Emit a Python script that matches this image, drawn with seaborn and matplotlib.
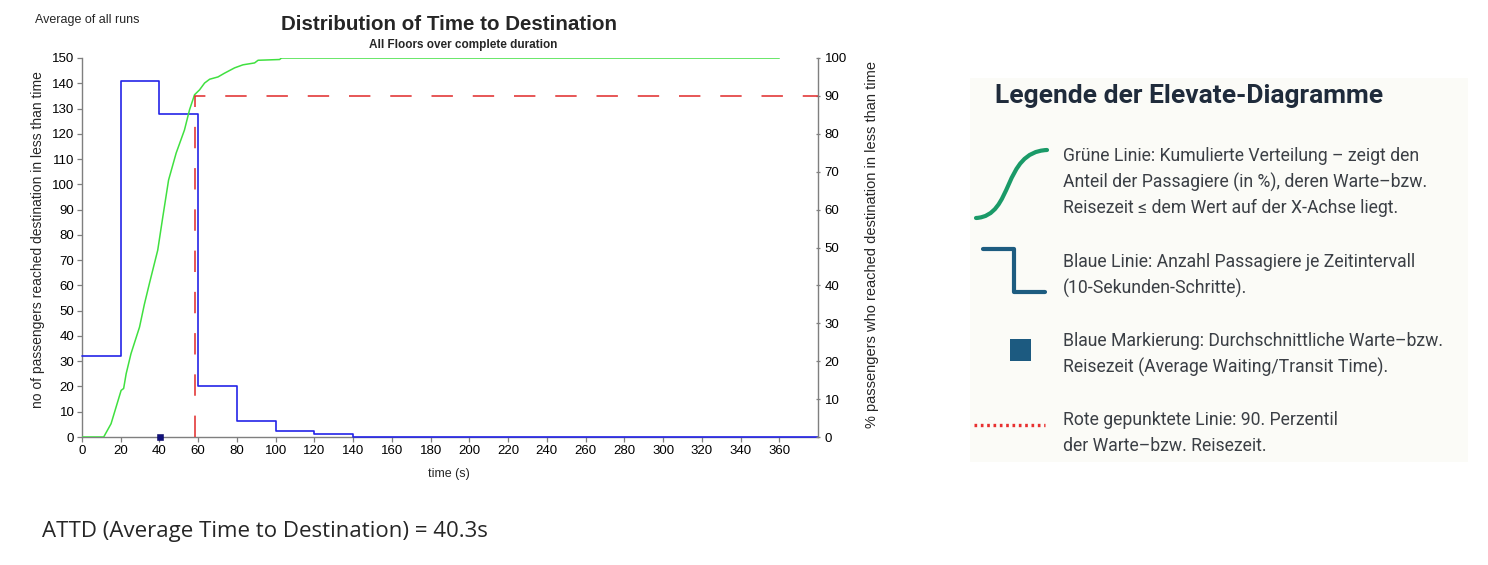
import numpy as np
import pandas as pd
import matplotlib
matplotlib.use("Agg")
import matplotlib.pyplot as plt
from matplotlib.path import Path
from matplotlib.patches import PathPatch, Rectangle
import seaborn as sns

# ---------------- data ----------------
bin_edges = [0, 20, 40, 60, 80, 100, 120, 140, 380]
bin_counts = [32, 141, 128, 20, 6.3, 2.3, 1.3, 0, 0]

cum_time = [0, 11.2, 15, 17.6, 20.2, 21.5, 22.8, 25.3, 29.7, 32.2, 34.8, 39.1, 41.7,
            44.7, 48.6, 52.9, 55.5, 58.1, 60.7, 63.3, 65.9, 70.2, 73.6, 78.8, 83.1,
            89.1, 90.9, 102, 103, 360]
cum_pct = [0, 0, 3.5, 7.9, 12.3, 12.8, 16.7, 22, 29, 35, 40.5, 49.3, 58,
           67.8, 74.9, 81, 86.3, 90.3, 91.6, 93.4, 94.4, 95, 96, 97.4, 98.2,
           98.7, 99.4, 99.6, 100, 100]

p90_time = 58.5
p90_pct = 90
avg_time = 40.3

x_ticks = list(range(0, 361, 20))
left_ticks = list(range(0, 151, 10))
right_ticks = list(range(0, 101, 10))

title = "Distribution of Time to Destination"
subtitle = "All Floors over complete duration"
left_label = "no of passengers reached destination in less than time"
right_label = "% passengers who reached destination in less than time"
x_label = "time (s)"
corner_note = "Average of all runs"
attd_text = "ATTD (Average Time to Destination) = 40.3s"

legend_title = "Legende der Elevate-Diagramme"
legend_lines = [
    "Grüne Linie: Kumulierte Verteilung – zeigt den",
    "Anteil der Passagiere (in %), deren Warte–bzw.",
    "Reisezeit ≤ dem Wert auf der X-Achse liegt.",
    "Blaue Linie: Anzahl Passagiere je Zeitintervall",
    "(10-Sekunden-Schritte).",
    "Blaue Markierung: Durchschnittliche Warte–bzw.",
    "Reisezeit (Average Waiting/Transit Time).",
    "Rote gepunktete Linie: 90. Perzentil",
    "der Warte–bzw. Reisezeit.",
]
legend_line_y = [156, 182, 208, 262, 288, 341, 367, 420, 446]

# ---------------- style ----------------
sns.set_theme(style="white")
plt.rcParams["font.family"] = ["Liberation Sans", "DejaVu Sans"]

W, H = 1488, 565
fig = plt.figure(figsize=(W / 100, H / 100), dpi=100)
fig.patch.set_facecolor("white")

L, R, T, B = 82, 818, 58, 437
ax = fig.add_axes([L / W, 1 - B / H, (R - L) / W, (B - T) / H])
ax2 = ax.twinx()

blue = "#2424e8"
green = "#40e040"
red = "#e02828"
spine_col = "#7f7f7f"

hist_df = pd.DataFrame({"time": bin_edges, "count": bin_counts})
sns.lineplot(data=hist_df, x="time", y="count", ax=ax, color=blue, lw=1.2,
             drawstyle="steps-post", estimator=None, zorder=3, clip_on=False)

cum_df = pd.DataFrame({"time": cum_time, "pct": cum_pct})
sns.lineplot(data=cum_df, x="time", y="pct", ax=ax2, color=green, lw=1.1,
             sort=False, estimator=None, zorder=2)

p90_df = pd.DataFrame({"time": [p90_time, p90_time, 380], "pct": [0, p90_pct, p90_pct]})
sns.lineplot(data=p90_df, x="time", y="pct", ax=ax2, color=red, lw=1.1,
             sort=False, estimator=None, zorder=2)
ax2.lines[-1].set_dashes([14, 13])

avg_df = pd.DataFrame({"time": [avg_time], "count": [0]})
sns.scatterplot(data=avg_df, x="time", y="count", ax=ax, marker="s", s=22,
                color="#10107a", edgecolor="#000060", zorder=5, clip_on=False)

for a in (ax, ax2):
    a.set_xlim(0, 380)
    a.set_facecolor("none")
    a.grid(False)
    a.spines["top"].set_visible(False)
    for s in ("left", "right", "bottom"):
        a.spines[s].set_color(spine_col)
        a.spines[s].set_linewidth(1.0)
ax.set_ylim(0, 150)
ax2.set_ylim(0, 100)
ax.spines["right"].set_visible(False)
ax2.spines["left"].set_visible(False)
ax2.spines["bottom"].set_visible(False)

ax.set_xticks(x_ticks)
ax.set_yticks(left_ticks)
ax2.set_yticks(right_ticks)
ax.tick_params(axis="both", labelsize=9.5, colors=spine_col, labelcolor="black",
               length=3.5, width=0.9, pad=2, left=True, bottom=True)
ax2.tick_params(axis="y", labelsize=9.5, colors=spine_col, labelcolor="black",
                length=3.5, width=0.9, pad=3, right=True, direction="inout")

ax.set_xlabel("")
ax.set_ylabel("")
ax2.set_ylabel("")

# ---------------- overlay for texts and legend panel ----------------
ov = fig.add_axes([0, 0, 1, 1], zorder=10)
ov.set_xlim(0, W)
ov.set_ylim(H, 0)
ov.axis("off")
ov.patch.set_alpha(0)

ov.text(449, 25, title, fontsize=14.8, fontweight="bold", ha="center", va="center")
ov.text(463, 45, subtitle, fontsize=8.5, fontweight="bold", ha="center", va="center")
ov.text(35, 20, corner_note, fontsize=9, ha="left", va="center")
ov.text(449, 474, x_label, fontsize=9, ha="center", va="center")
ov.text(38, 240, left_label, fontsize=10, rotation=90, ha="center", va="center")
ov.text(872, 245, right_label, fontsize=10.5, rotation=90, ha="center", va="center")
ov.text(42, 531, attd_text, fontsize=16, ha="left", va="center",
        family=["Open Sans", "DejaVu Sans"])

# legend panel
ov.add_patch(Rectangle((970, 78), 498, 384, facecolor="#fbfbf7", edgecolor="none", zorder=0))
narrow = ["Roboto", "DejaVu Sans"]
ov.text(995, 96, legend_title, fontsize=19, fontweight="bold", color="#1f2b3b",
        ha="left", va="center", family=narrow)
for txt, yy in zip(legend_lines, legend_line_y):
    ov.text(1063, yy, txt, fontsize=12.7, color="#3b3f45", ha="left", va="center",
            family=narrow)

# icons
verts = [(976, 218), (1014, 216), (1002, 152), (1047, 150)]
ov.add_patch(PathPatch(Path(verts, [Path.MOVETO, Path.CURVE4, Path.CURVE4, Path.CURVE4]),
                       facecolor="none", edgecolor="#1a9a68", lw=3.0, capstyle="round"))
ov.plot([983, 1014, 1014, 1045], [249, 249, 292, 292], color="#1d5c80", lw=3)
ov.add_patch(Rectangle((1010, 339), 21, 22, facecolor="#1c5a80", edgecolor="none"))
ov.plot([974, 1045], [425, 425], color="#e83030", lw=2.4, linestyle=(0, (0.8, 1.1)),
        dash_capstyle="butt")

fig.savefig("out.png", dpi=100, facecolor="white")
